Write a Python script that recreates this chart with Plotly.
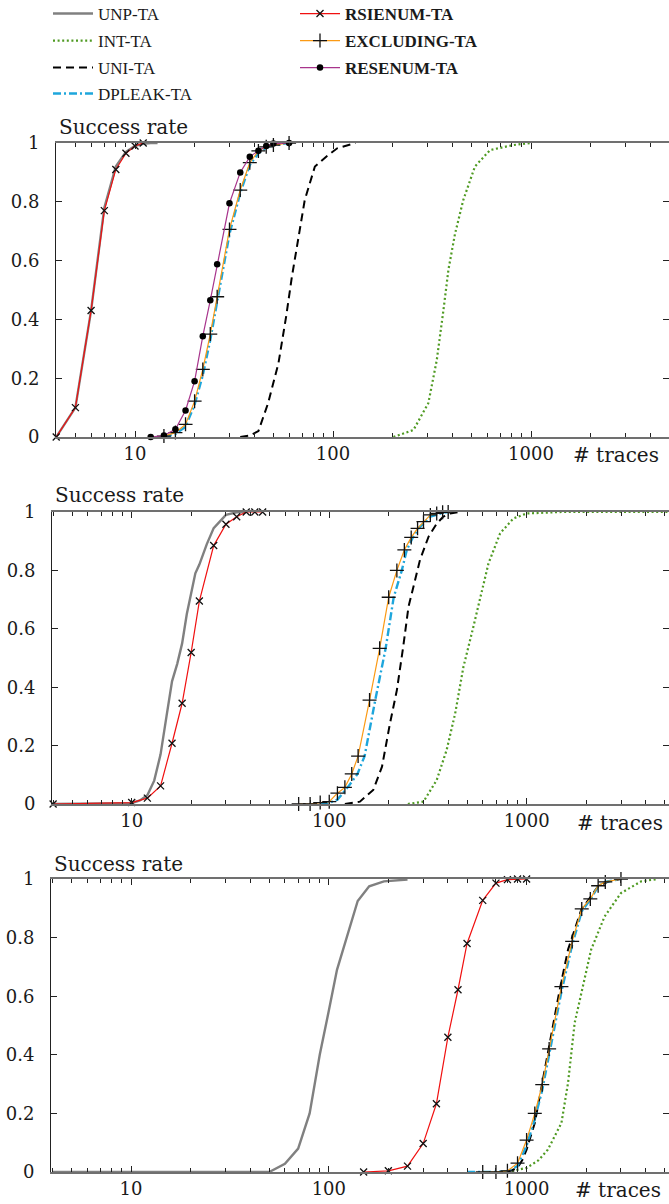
import plotly.graph_objects as go

W, H = 669, 1204

# ---------------- data: success rate vs. number of traces ----------------
# Panel 1
p1_unp_x = [4, 5, 6, 7, 8, 9, 10, 11, 12, 13]
p1_unp_y = [0, 0.10, 0.43, 0.78, 0.92, 0.97, 0.99, 0.997, 1.0, 1.0]
p1_int_x = [202, 255, 303, 334, 361, 383, 413, 455, 521, 621, 813, 1000]
p1_int_y = [0, 0.024, 0.115, 0.26, 0.43, 0.57, 0.69, 0.806, 0.92, 0.976, 0.993, 1.0]
p1_uni_x = [34, 38, 42, 47, 53, 58, 62, 67, 72, 81, 93, 105, 130]
p1_uni_y = [0, 0.005, 0.02, 0.115, 0.25, 0.41, 0.545, 0.68, 0.806, 0.92, 0.955, 0.982, 1.0]
p1_dpl_x = [14, 16, 18, 20, 22, 24, 26, 30, 34, 38, 42, 46, 50, 60]
p1_dpl_y = [0, 0.01, 0.035, 0.11, 0.21, 0.33, 0.46, 0.69, 0.83, 0.925, 0.965, 0.985, 0.993, 1.0]
p1_rsi_x = [4, 5, 6, 7, 8, 9, 10, 11]
p1_rsi_y = [0, 0.10, 0.43, 0.77, 0.91, 0.965, 0.99, 1.0]
p1_exc_x = [14, 16, 18, 20, 22, 24, 26, 30, 34, 38, 42, 46, 50, 60]
p1_exc_y = [0.003, 0.015, 0.043, 0.122, 0.23, 0.35, 0.477, 0.706, 0.84, 0.933, 0.973, 0.987, 0.993, 1.0]
p1_res_x = [12, 14, 16, 18, 20, 22, 24, 26, 30, 34, 38, 42, 46, 50, 60]
p1_res_y = [0, 0.005, 0.026, 0.09, 0.19, 0.343, 0.465, 0.588, 0.795, 0.90, 0.953, 0.974, 0.99, 0.998, 1.0]

# Panel 2
p2_unp_x = [4, 10, 11, 12, 13, 14, 15, 16, 17, 18, 19, 20, 21, 22, 24, 26, 28, 30, 34, 38]
p2_unp_y = [0, 0.003, 0.012, 0.03, 0.08, 0.17, 0.30, 0.42, 0.48, 0.55, 0.65, 0.72, 0.79, 0.82,
            0.89, 0.945, 0.97, 0.99, 0.999, 1.0]
p2_int_x = [250, 300, 350, 393, 434, 478, 527, 581, 640, 733, 856, 1000, 1260, 1500, 6000]
p2_int_y = [0, 0.008, 0.082, 0.185, 0.31, 0.47, 0.585, 0.71, 0.824, 0.927, 0.978, 0.995, 0.999, 1.0, 1.0]
p2_uni_x = [120, 143, 167, 185, 203, 220, 237, 252, 272, 288, 318, 350, 378, 409, 460]
p2_uni_y = [0, 0.008, 0.048, 0.128, 0.276, 0.39, 0.54, 0.676, 0.767, 0.836, 0.915, 0.96, 0.984, 0.995, 1.0]
p2_dpl_x = [90, 100, 110, 124, 139, 151, 171, 193, 212, 233, 247, 265, 283, 325, 375, 400]
p2_dpl_y = [0, 0.004, 0.015, 0.057, 0.103, 0.164, 0.356, 0.533, 0.708, 0.80, 0.87, 0.913, 0.944,
            0.984, 0.997, 1.0]
p2_rsi_x = [4, 10, 12, 14, 16, 18, 20, 22, 26, 30, 34, 38, 42, 46]
p2_rsi_y = [0, 0.005, 0.02, 0.062, 0.208, 0.345, 0.519, 0.695, 0.885, 0.958, 0.984, 1.0, 1.0, 1.0]
p2_exc_x = [70, 80, 90, 100, 110, 120, 130, 140, 160, 180, 200, 220, 240, 260, 280, 300, 325, 350, 375, 400]
p2_exc_y = [0, 0, 0.005, 0.008, 0.037, 0.057, 0.103, 0.164, 0.356, 0.533, 0.708, 0.80, 0.87, 0.913,
            0.944, 0.967, 0.99, 0.995, 0.999, 1.0]

# Panel 3
p3_unp_x = [4, 50, 60, 70, 80, 90, 100, 110, 140, 160, 190, 250]
p3_unp_y = [0, 0, 0.028, 0.08, 0.2, 0.4, 0.55, 0.69, 0.925, 0.975, 0.992, 0.998]
p3_int_x = [800, 1000, 1150, 1280, 1500, 1620, 1750, 1890, 2120, 2480, 3000, 3800, 4600]
p3_int_y = [0, 0.014, 0.04, 0.076, 0.167, 0.304, 0.509, 0.611, 0.759, 0.872, 0.952, 0.992, 1.0]
p3_uni_x = [800, 900, 950, 1000, 1100, 1200, 1330, 1470, 1620, 1890, 2300, 2600, 3000]
p3_uni_y = [0, 0.015, 0.04, 0.076, 0.167, 0.304, 0.463, 0.622, 0.759, 0.895, 0.975, 0.992, 1.0]
p3_dpl_x = [500, 700, 800, 900, 1000, 1100, 1200, 1300, 1500, 1700, 1900, 2100, 2300, 2500, 3000]
p3_dpl_y = [0, 0, 0.003, 0.02, 0.09, 0.18, 0.28, 0.40, 0.615, 0.775, 0.89, 0.93, 0.975, 0.99, 1.0]
p3_rsi_x = [150, 200, 250, 300, 350, 400, 450, 500, 600, 700, 800, 900, 1000]
p3_rsi_y = [0, 0.004, 0.02, 0.097, 0.233, 0.46, 0.622, 0.78, 0.927, 0.986, 0.998, 1.0, 1.0]
p3_exc_x = [600, 700, 800, 900, 1000, 1100, 1200, 1300, 1500, 1700, 1900, 2100, 2300, 2500, 3000]
p3_exc_y = [0, 0, 0.004, 0.03, 0.109, 0.2, 0.298, 0.42, 0.633, 0.787, 0.898, 0.932, 0.977, 0.99, 1.0]

y_ticks = [0, 0.2, 0.4, 0.6, 0.8, 1]
y_tick_text = ["0", "0.2", "0.4", "0.6", "0.8", "1"]
x_ticks = [10, 100, 1000]
x_tick_text = ["10", "100", "1000"]

# ---------------- styles ----------------
STYLE = {
    "UNP-TA": dict(mode="lines", line=dict(color="#808080", width=2.4)),
    "INT-TA": dict(mode="lines", line=dict(color="#4f9a22", width=2.2, dash="2px,2.6px")),
    "UNI-TA": dict(mode="lines", line=dict(color="#000000", width=2.0, dash="8px,5px")),
    "DPLEAK-TA": dict(mode="lines", line=dict(color="#1ea6dc", width=2.4, dash="8px,3px,2px,3px")),
    "RSIENUM-TA": dict(mode="lines+markers", line=dict(color="#f01010", width=1.2),
                       marker=dict(symbol="x-thin", size=7, color="#111",
                                   line=dict(color="#111", width=1.3))),
    "EXCLUDING-TA": dict(mode="lines+markers", line=dict(color="#fb9a14", width=1.2),
                         marker=dict(symbol="cross-thin", size=10, color="#111",
                                     line=dict(color="#111", width=1.3))),
    "RESENUM-TA": dict(mode="lines+markers", line=dict(color="#a8348c", width=1.2),
                       marker=dict(symbol="circle", size=6.5, color="#000")),
}
LEGEND_ID = {"UNP-TA": "legend", "INT-TA": "legend2", "UNI-TA": "legend3", "DPLEAK-TA": "legend4",
             "RSIENUM-TA": "legend5", "EXCLUDING-TA": "legend6", "RESENUM-TA": "legend7"}
BOLD = {"RSIENUM-TA", "EXCLUDING-TA", "RESENUM-TA"}

panels = [
    [("UNP-TA", p1_unp_x, p1_unp_y), ("INT-TA", p1_int_x, p1_int_y), ("UNI-TA", p1_uni_x, p1_uni_y),
     ("DPLEAK-TA", p1_dpl_x, p1_dpl_y), ("RSIENUM-TA", p1_rsi_x, p1_rsi_y),
     ("EXCLUDING-TA", p1_exc_x, p1_exc_y), ("RESENUM-TA", p1_res_x, p1_res_y)],
    [("UNP-TA", p2_unp_x, p2_unp_y), ("INT-TA", p2_int_x, p2_int_y), ("UNI-TA", p2_uni_x, p2_uni_y),
     ("DPLEAK-TA", p2_dpl_x, p2_dpl_y), ("RSIENUM-TA", p2_rsi_x, p2_rsi_y),
     ("EXCLUDING-TA", p2_exc_x, p2_exc_y)],
    [("UNP-TA", p3_unp_x, p3_unp_y), ("INT-TA", p3_int_x, p3_int_y), ("UNI-TA", p3_uni_x, p3_uni_y),
     ("DPLEAK-TA", p3_dpl_x, p3_dpl_y), ("RSIENUM-TA", p3_rsi_x, p3_rsi_y),
     ("EXCLUDING-TA", p3_exc_x, p3_exc_y)],
]

fig = go.Figure()
for i, series in enumerate(panels):
    suffix = "" if i == 0 else str(i + 1)
    for name, xs, ys in series:
        label = f"<b>{name}</b>" if name in BOLD else name
        fig.add_trace(go.Scatter(
            x=xs, y=ys, name=label, xaxis="x" + suffix, yaxis="y" + suffix,
            showlegend=(i == 0), legend=LEGEND_ID[name], cliponaxis=False,
            **STYLE[name]))

# plot-area geometry (pixels): left, top, bottom, log-x range; right edge at page edge
geom = [(56, 143, 437, 0.601, 3.697), (52, 512, 804, 0.5965, 3.72), (51, 879, 1172, 0.5955, 3.72)]

TICK_FONT = dict(family="DejaVu Serif", size=18, color="#1a1a1a")
layout = dict(
    width=W, height=H, margin=dict(l=0, r=0, t=0, b=0, autoexpand=False),
    paper_bgcolor="white", plot_bgcolor="white",
    font=dict(family="DejaVu Serif", color="#1a1a1a"),
)
for i, (left, top, bottom, xl, xr) in enumerate(geom):
    suffix = "" if i == 0 else str(i + 1)
    layout["xaxis" + suffix] = dict(
        type="log", range=[xl, xr], domain=[left / W, 1.0], anchor="y" + suffix,
        tickvals=x_ticks, ticktext=x_tick_text, ticks="inside", ticklen=6, tickcolor="#222",
        tickwidth=1, showline=True, linecolor="#707070", linewidth=1.5, mirror="allticks",
        showgrid=False, zeroline=False, tickfont=TICK_FONT, automargin=False,
        minor=dict(ticks="inside", ticklen=4, tickcolor="#222", tickwidth=1, dtick="D1", showgrid=False),
    )
    layout["yaxis" + suffix] = dict(
        range=[0, 1], domain=[1 - bottom / H, 1 - top / H], anchor="x" + suffix,
        tickvals=y_ticks, ticktext=y_tick_text, ticks="inside", ticklen=6, tickcolor="#222",
        showline=True, linecolor="#222", linewidth=1, mirror="allticks", automargin=False,
        showgrid=False, zeroline=False, tickfont=TICK_FONT, ticklabelstandoff=12,
    )

# legends: two columns
leg_rows = {"legend": (48, 14), "legend2": (48, 41), "legend3": (48, 68), "legend4": (48, 94),
            "legend5": (295, 14), "legend6": (295, 41), "legend7": (295, 68)}
for lid, (lx, ly) in leg_rows.items():
    layout[lid] = dict(x=lx / W, y=1 - ly / H, xanchor="left", yanchor="middle",
                       bgcolor="rgba(0,0,0,0)", borderwidth=0, itemwidth=40,
                       font=dict(family="Liberation Serif", size=17, color="#1a1a1a"))

ann = []
labels_pos = [((57, 127), (661, 455)), ((53, 495), (665, 823)), ((52, 864), (663, 1190))]
for (sx, sy), (tx, ty) in labels_pos:
    ann.append(dict(text="Success rate", x=sx / W, y=1 - sy / H, xref="paper", yref="paper",
                    xanchor="left", yanchor="middle", showarrow=False,
                    font=dict(family="DejaVu Serif", size=20, color="#1a1a1a")))
    ann.append(dict(text="# traces", x=tx / W, y=1 - ty / H, xref="paper", yref="paper",
                    xanchor="right", yanchor="middle", showarrow=False,
                    font=dict(family="DejaVu Serif", size=20, color="#1a1a1a")))
layout["annotations"] = ann

fig.update_layout(**layout)
fig.write_html("out.html")
